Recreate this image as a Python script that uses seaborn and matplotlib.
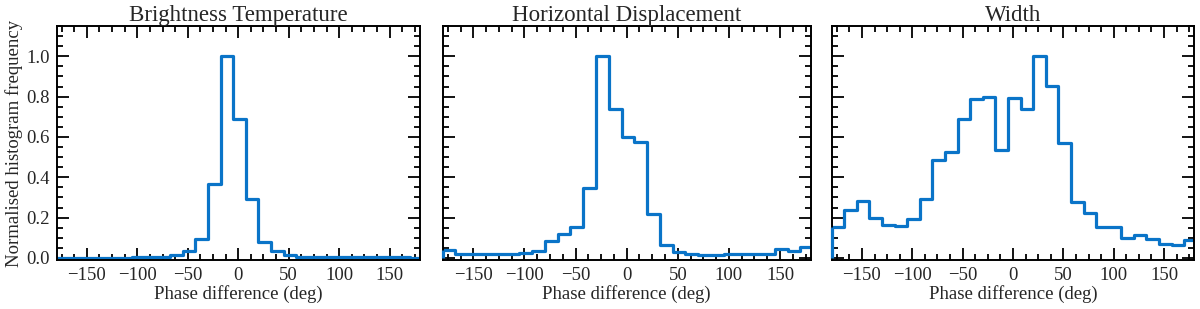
import numpy as np
import pandas as pd
import seaborn as sns
import matplotlib.pyplot as plt
from matplotlib.ticker import MultipleLocator, FormatStrFormatter

# histogram bins in phase difference (deg), 12.5 deg wide starting at -180
bin_edges = list(np.arange(-180, 190, 12.5))
bin_centres = [e + 6.25 for e in bin_edges[:-1]]

titles = ["Brightness Temperature", "Horizontal Displacement", "Width"]

brightness = [0.002, 0.002, 0.002, 0.002, 0.002, 0.002, 0.003, 0.005, 0.007,
              0.013, 0.036, 0.095, 0.365, 1.0, 0.69, 0.294, 0.078, 0.033,
              0.013, 0.005, 0.003, 0.003, 0.003, 0.003, 0.003, 0.006, 0.006,
              0.003, 0.002]
displacement = [0.041, 0.022, 0.022, 0.022, 0.022, 0.022, 0.024, 0.034, 0.082,
                0.118, 0.152, 0.348, 1.0, 0.74, 0.60, 0.575, 0.217, 0.065,
                0.029, 0.021, 0.016, 0.017, 0.018, 0.019, 0.019, 0.02, 0.047,
                0.036, 0.054]
width = [0.152, 0.237, 0.284, 0.199, 0.163, 0.158, 0.191, 0.294, 0.485,
         0.526, 0.691, 0.788, 0.796, 0.534, 0.793, 0.739, 1.0, 0.854,
         0.569, 0.279, 0.221, 0.152, 0.155, 0.098, 0.113, 0.095, 0.070,
         0.062, 0.087]
series = [brightness, displacement, width]

sns.set_style("ticks")
plt.rcParams["font.family"] = ["Liberation Serif", "DejaVu Serif"]
plt.rcParams["axes.unicode_minus"] = True

blue = "#0a74c8"
fig = plt.figure(figsize=(12, 3.09), dpi=100)
W, H = 1200, 309
boxes = [(56.5, 420), (442.7, 810.7), (831.7, 1194.3)]
top, bottom = 26, 260

for i, (title, vals) in enumerate(zip(titles, series)):
    x0, x1 = boxes[i]
    ax = fig.add_axes([x0 / W, (H - bottom) / H, (x1 - x0) / W, (bottom - top) / H])
    df = pd.DataFrame({"phase": bin_centres, "freq": vals})
    sns.histplot(data=df, x="phase", weights="freq", bins=bin_edges,
                 element="step", fill=False, color=blue, linewidth=2.3,
                 ax=ax)
    # outline drops to zero at the first bin edge
    ax.vlines(bin_edges[0], 0, vals[0], color=blue, linewidth=2.3, clip_on=False,
              zorder=3)
    ax.set_xlim(-180, 180)
    ax.set_ylim(-0.01, 1.15)
    ax.set_title(title, fontsize=16.5, pad=3)
    ax.set_xlabel("Phase difference (deg)", fontsize=13.5, labelpad=1)
    ax.xaxis.set_major_locator(MultipleLocator(50))
    ax.xaxis.set_minor_locator(MultipleLocator(12.5))
    ax.yaxis.set_major_locator(MultipleLocator(0.2))
    ax.yaxis.set_minor_locator(MultipleLocator(0.05))
    ax.yaxis.set_major_formatter(FormatStrFormatter("%.1f"))
    ax.tick_params(which="both", direction="in", top=True, right=True,
                   width=1.3, color="black", labelsize=13.5)
    ax.tick_params(which="major", length=8.5, pad=5)
    ax.tick_params(which="minor", length=4.5)
    for s in ax.spines.values():
        s.set_linewidth(1.4)
        s.set_color("black")
    if i == 0:
        ax.set_ylabel("Normalised histogram frequency", fontsize=13.5, labelpad=2)
    else:
        ax.set_ylabel("")
        ax.tick_params(labelleft=False)

fig.savefig("out.png", dpi=100)
